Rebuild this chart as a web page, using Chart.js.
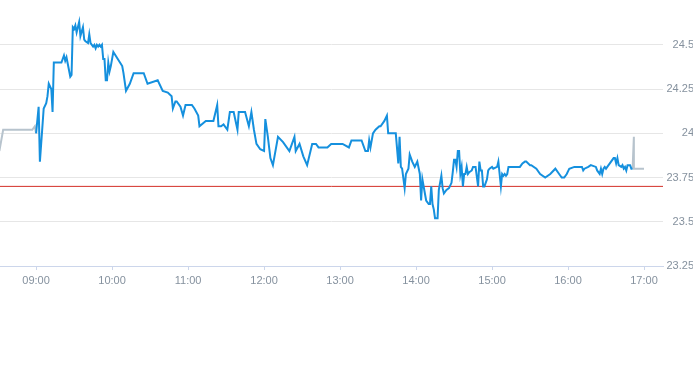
<!DOCTYPE html>
<html>
<head>
<meta charset="utf-8">
<script src="https://cdn.jsdelivr.net/npm/chart.js@4/dist/chart.umd.min.js"></script>
<style>
  html, body { margin: 0; padding: 0; background: #fff; overflow: hidden; }
  #wrap { width: 694px; height: 296px; position: relative; margin-top: -6px; }
</style>
</head>
<body>
<div id="wrap"><canvas id="chart-canvas"></canvas></div>
<script>
// pre-market (gray)
const preTimes = ['08:31', '08:34', '08:57', '08:59', '09:00']
const prePrices = [23.90, 24.02, 24.02, 24.04, 24.00]

// trading session (blue)
const times = [
  '09:00', '09:02', '09:03', '09:05', '09:06', '09:08', '09:09', '09:10', '09:12', '09:13',
  '09:14', '09:18', '09:20', '09:22', '09:23', '09:24', '09:27', '09:28', '09:29', '09:30',
  '09:31', '09:32', '09:34', '09:35', '09:37', '09:38', '09:39', '09:41', '09:42', '09:43',
  '09:45', '09:46', '09:47', '09:48', '09:49', '09:50', '09:51', '09:52', '09:53', '09:54',
  '09:55', '09:56', '09:57', '09:58', '09:59', '10:01', '10:08', '10:09', '10:11', '10:14',
  '10:17', '10:25', '10:28', '10:36', '10:40', '10:44', '10:47', '10:48', '10:50', '10:51',
  '10:54', '10:56', '10:58', '11:03', '11:05', '11:08', '11:09', '11:14', '11:20', '11:23',
  '11:24', '11:26', '11:28', '11:31', '11:33', '11:36', '11:39', '11:40', '11:45', '11:48',
  '11:50', '11:52', '11:54', '11:57', '12:00', '12:01', '12:03', '12:05', '12:07', '12:11',
  '12:15', '12:20', '12:24', '12:25', '12:28', '12:31', '12:34', '12:38', '12:41', '12:43',
  '12:50', '12:53', '13:02', '13:07', '13:09', '13:17', '13:20', '13:22', '13:23', '13:24',
  '13:26', '13:28', '13:31', '13:32', '13:35', '13:37', '13:38', '13:44', '13:46', '13:47',
  '13:48', '13:49', '13:51', '13:52', '13:54', '13:55', '13:57', '13:59', '14:01', '14:03',
  '14:04', '14:05', '14:07', '14:08', '14:10', '14:11', '14:12', '14:13', '14:14', '14:15',
  '14:17', '14:18', '14:20', '14:21', '14:22', '14:24', '14:26', '14:28', '14:29', '14:30',
  '14:31', '14:32', '14:33', '14:34', '14:35', '14:36', '14:37', '14:38', '14:39', '14:40',
  '14:41', '14:42', '14:44', '14:45', '14:47', '14:49', '14:50', '14:51', '14:52', '14:53',
  '14:54', '14:56', '14:57', '14:58', '15:00', '15:01', '15:04', '15:05', '15:06', '15:07',
  '15:08', '15:09', '15:10', '15:11', '15:12', '15:13', '15:22', '15:24', '15:26', '15:27',
  '15:30', '15:31', '15:35', '15:38', '15:42', '15:46', '15:50', '15:53', '15:55', '15:57',
  '15:59', '16:01', '16:05', '16:11', '16:12', '16:13', '16:16', '16:18', '16:22', '16:23',
  '16:25', '16:26', '16:27', '16:28', '16:29', '16:30', '16:31', '16:33', '16:34', '16:36',
  '16:37', '16:38', '16:39', '16:40', '16:42', '16:43', '16:44', '16:45', '16:46', '16:47',
  '16:49', '16:50', '16:51'
]
const prices = [
  24.00, 24.15, 23.84, 24.04, 24.14, 24.17, 24.21, 24.28, 24.25, 24.12,
  24.40, 24.40, 24.40, 24.44, 24.41, 24.43, 24.32, 24.33, 24.60, 24.59,
  24.61, 24.57, 24.63, 24.55, 24.60, 24.53, 24.52, 24.51, 24.56, 24.51,
  24.49, 24.50, 24.48, 24.50, 24.49, 24.50, 24.49, 24.50, 24.42, 24.42,
  24.30, 24.30, 24.40, 24.35, 24.38, 24.46, 24.38, 24.34, 24.24, 24.28,
  24.34, 24.34, 24.28, 24.30, 24.24, 24.23, 24.21, 24.14, 24.18, 24.18,
  24.15, 24.10, 24.16, 24.16, 24.14, 24.10, 24.04, 24.07, 24.07, 24.16,
  24.04, 24.04, 24.05, 24.02, 24.12, 24.12, 24.02, 24.12, 24.12, 24.04,
  24.12, 24.02, 23.94, 23.91, 23.90, 24.08, 23.98, 23.86, 23.82, 23.98,
  23.95, 23.90, 23.98, 23.90, 23.94, 23.87, 23.82, 23.94, 23.94, 23.92,
  23.92, 23.94, 23.94, 23.92, 23.96, 23.96, 23.90, 23.90, 23.96, 23.92,
  24.00, 24.02, 24.04, 24.04, 24.07, 24.10, 24.00, 24.00, 23.83, 23.98,
  23.81, 23.80, 23.69, 23.77, 23.80, 23.88, 23.84, 23.81, 23.84, 23.77,
  23.62, 23.74, 23.66, 23.62, 23.60, 23.60, 23.70, 23.60, 23.57, 23.52,
  23.52, 23.68, 23.76, 23.69, 23.66, 23.68, 23.69, 23.72, 23.78, 23.85,
  23.85, 23.81, 23.90, 23.90, 23.77, 23.81, 23.70, 23.77, 23.77, 23.81,
  23.77, 23.78, 23.79, 23.81, 23.81, 23.70, 23.84, 23.79, 23.79, 23.70,
  23.70, 23.74, 23.79, 23.80, 23.81, 23.80, 23.81, 23.84, 23.77, 23.70,
  23.77, 23.76, 23.77, 23.76, 23.77, 23.81, 23.81, 23.83, 23.84, 23.84,
  23.82, 23.82, 23.80, 23.77, 23.75, 23.77, 23.80, 23.77, 23.75, 23.75,
  23.77, 23.80, 23.81, 23.81, 23.79, 23.80, 23.81, 23.82, 23.81, 23.79,
  23.77, 23.80, 23.77, 23.80, 23.81, 23.80, 23.81, 23.83, 23.84, 23.86,
  23.86, 23.83, 23.86, 23.82, 23.81, 23.82, 23.80, 23.81, 23.79, 23.82,
  23.82, 23.80, 23.80
]

// after-hours (gray)
const postTimes = ['16:51', '16:52', '16:52', '17:00']
const postPrices = [23.80, 23.98, 23.80, 23.80]

const prevClose = 23.70
const hourTicks = ['09:00', '10:00', '11:00', '12:00', '13:00', '14:00', '15:00', '16:00', '17:00']
const priceTicks = [23.25, 23.5, 23.75, 24, 24.25, 24.5]
const xStart = '08:31:30'
const xEnd = '17:15'
const yMin = 23.25
const yMax = 24.75

function toMin(s) {
  const p = s.split(':').map(Number)
  return p[0] * 60 + p[1] + (p[2] || 0) / 60
}
function fmtMin(v) {
  const h = Math.floor(v / 60)
  const m = Math.round(v % 60)
  return String(h).padStart(2, '0') + ':' + String(m).padStart(2, '0')
}
const toPoints = (ts, ps) => ts.map((t, i) => ({ x: toMin(t), y: ps[i] }))

const axisColor = '#ccd6eb'
const labelColor = '#85919e'
Chart.defaults.font.family = '"Liberation Sans", Arial, Helvetica, sans-serif'
Chart.defaults.font.size = 11

const lineBase = { pointRadius: 0, pointHoverRadius: 0, tension: 0, fill: false }

new Chart(document.getElementById('chart-canvas'), {
  type: 'line',
  data: {
    datasets: [
      { ...lineBase, data: toPoints(times, prices), borderColor: '#1590de', borderWidth: 2 },
      { ...lineBase, data: toPoints(preTimes, prePrices), borderColor: '#b7c3cd', borderWidth: 2 },
      { ...lineBase, data: toPoints(postTimes, postPrices), borderColor: '#b7c3cd', borderWidth: 2 },
      { ...lineBase, data: [{ x: toMin(xStart), y: prevClose }, { x: toMin(xEnd), y: prevClose }], borderColor: '#d32f27', borderWidth: 1 },
    ]
  },
  options: {
    responsive: true,
    maintainAspectRatio: false,
    animation: false,
    parsing: false,
    layout: { padding: 0 },
    plugins: { legend: { display: false }, tooltip: { enabled: false } },
    scales: {
      x: {
        type: 'linear',
        min: toMin(xStart),
        max: toMin(xEnd),
        afterBuildTicks: (scale) => { scale.ticks = hourTicks.map(t => ({ value: toMin(t) })) },
        afterFit: (scale) => { scale.height = 24 },
        grid: { drawOnChartArea: false, drawTicks: true, tickLength: 4, color: axisColor },
        border: { display: true, color: axisColor, width: 1 },
        ticks: { color: labelColor, padding: 4, maxRotation: 0, autoSkip: false, callback: (v) => fmtMin(v) }
      },
      y: {
        position: 'right',
        min: yMin,
        max: yMax,
        afterBuildTicks: (scale) => { scale.ticks = priceTicks.map(v => ({ value: v })) },
        afterFit: (scale) => { scale.width = 31 },
        grid: { color: '#e6e6e6', drawTicks: false },
        border: { display: false },
        ticks: { color: labelColor, crossAlign: 'far', padding: 0, callback: (v) => String(v) }
      }
    }
  }
})
</script>
</body>
</html>
